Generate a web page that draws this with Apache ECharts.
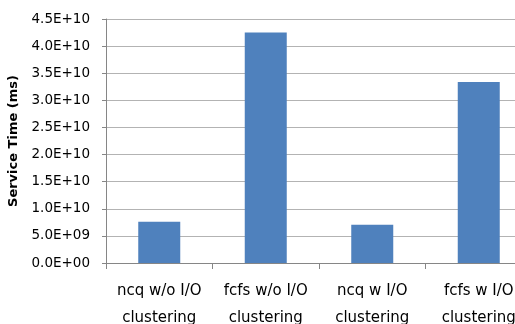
<!DOCTYPE html>
<html><head><meta charset="utf-8">
<script src="https://cdn.jsdelivr.net/npm/echarts@6/dist/echarts.min.js"></script>
<style>html,body{margin:0;padding:0;background:#fff;overflow:hidden;width:515px;height:324px}#c{width:532px;height:324px}</style>
</head><body><div id="c"></div>
<script>
const categories = ["ncq w/o I/O\nclustering", "fcfs w/o I/O\nclustering", "ncq w I/O\nclustering", "fcfs w I/O\nclustering"];
const serviceTime = [7.6e9, 4.25e10, 7.05e9, 3.34e10];
const yTicks = [0, 5e9, 1e10, 1.5e10, 2e10, 2.5e10, 3e10, 3.5e10, 4e10, 4.5e10];

function fmt(v){
  if (v === 0) return "0.0E+00";
  const e = Math.floor(Math.log10(v));
  const m = v / Math.pow(10, e);
  return m.toFixed(1) + "E+" + String(e).padStart(2, "0");
}

const chart = echarts.init(document.getElementById('c'));
chart.setOption({
  animation: false,
  grid: {left: 106, right: 0, top: 19, bottom: 61, containLabel: false, outerBoundsMode: 'none'},
  xAxis: {
    type: 'category', data: categories,
    axisLine: {lineStyle: {color: '#868686'}},
    axisTick: {show: true, length: 6, lineStyle: {color: '#868686'}},
    axisLabel: {color: '#000', fontFamily: 'DejaVu Sans', fontSize: 15, lineHeight: 27, margin: 15, interval: 0}
  },
  yAxis: {
    type: 'value', min: yTicks[0], max: yTicks[yTicks.length-1], interval: 5e9,
    name: 'Service Time (ms)', nameLocation: 'middle', nameGap: 84,
    nameTextStyle: {color: '#000', fontFamily: 'DejaVu Sans', fontWeight: 'bold', fontSize: 13},
    axisLine: {show: true, lineStyle: {color: '#868686'}},
    axisTick: {show: true, length: 4, lineStyle: {color: '#868686'}},
    splitLine: {lineStyle: {color: '#b3b3b3'}},
    axisLabel: {color: '#000', fontFamily: 'DejaVu Sans', fontSize: 13.5, margin: 16, formatter: fmt}
  },
  series: [{type: 'bar', data: serviceTime, barWidth: 42, itemStyle: {color: '#4F81BD'}}]
});
</script></body></html>
